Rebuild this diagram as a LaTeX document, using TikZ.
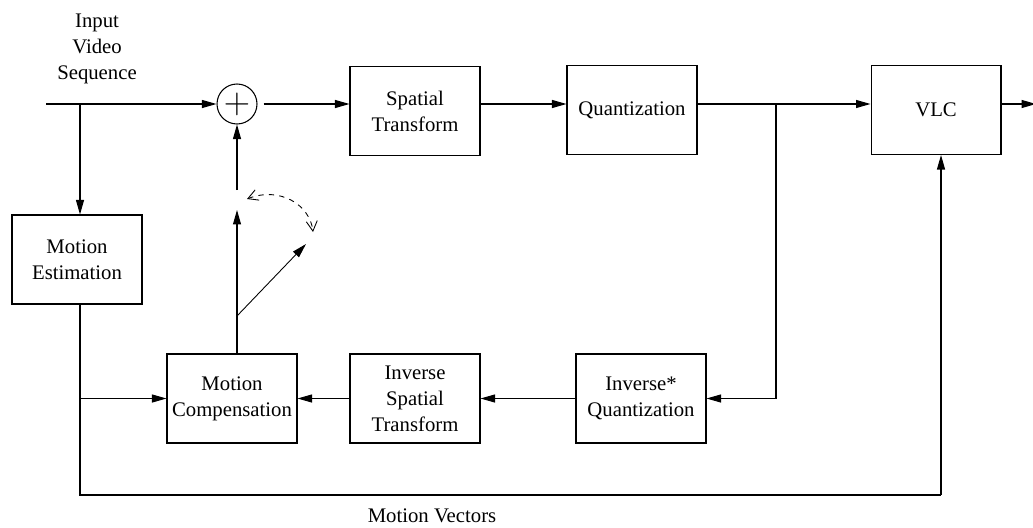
\documentclass[tikz,border=0pt]{standalone}
\usepackage{fontspec}
\setmainfont{Liberation Serif}
\usetikzlibrary{arrows.meta,calc}

\tikzset{
  block/.style={draw,line width=0.6pt,minimum width=2.6cm,minimum height=1.78cm,align=center,inner sep=0pt},
  flow/.style={line width=0.6pt,-{Triangle[length=2.9mm,width=1.6mm]}},
  wire/.style={line width=0.6pt}
}

\begin{document}
\begin{tikzpicture}[x=0.02cm,y=-0.02cm,font=\fontsize{11.8}{14.7}\selectfont]
\useasboundingbox (0,0) rectangle (1033,527);

% Blocks
\node[block] (st) at (415,111) {Spatial\\Transform};
\node[block] (quant) at (632,110) {Quantization};
\node[block] (vlc) at (936,110) {VLC};
\node[block] (me) at (77,259.5) {Motion\\Estimation};
\node[block] (mc) at (232,398.5) {Motion\\Compensation};
\node[block] (ist) at (415,398.5) {Inverse\\Spatial\\Transform};
\node[block] (iq) at (641,398.5) {Inverse*\\Quantization};

% Summing junction
\node[draw,circle,line width=0.6pt,minimum size=0.8cm,inner sep=0pt,font=\fontsize{20}{20}\selectfont] (sum) at (237,104) {$+$};

% Labels
\node[align=center] (inlabel) at (97,49) {Input\\Video\\Sequence};
\node (mvlabel) at (432,516) {Motion Vectors};

% Points on the wires
\coordinate (in) at (46,104);
\coordinate (split1) at (80,104);
\coordinate (split2) at (776,104);
\coordinate (out) at (1036,104);
\coordinate (mvleft) at (80,495);
\coordinate (mvright) at (941,495);
\coordinate (pivot) at (237,316);
\coordinate (swlow) at (237,210);
\coordinate (swhigh) at (237,190);
\coordinate (swtip) at (306,244);

% Forward path
\draw[flow] (in) -- (sum.west);
\draw[flow,shorten <=3.5pt] (sum.east) -- (st.west |- sum);
\draw[flow] (st.east |- sum) -- (quant.west |- sum);
\draw[flow] (quant.east |- sum) -- (vlc.west |- sum);
\draw[flow] (vlc.east |- sum) -- (out);

% Motion estimation and vectors
\draw[flow] (split1) -- (split1 |- me.north);
\draw[wire] (split1 |- me.south) -- (mvleft) -- (mvright);
\draw[flow] (mvright) -- (mvright |- vlc.south);
\draw[flow] (split1 |- mc.west) -- (mc.west);

% Feedback loop
\draw[wire] (split2) -- (split2 |- iq.east);
\draw[flow] (split2 |- iq.east) -- (iq.east);
\draw[flow] (iq.west) -- (ist.east);
\draw[flow] (ist.west) -- (mc.east);

% Switch
\draw[wire] (pivot |- mc.north) -- (pivot);
\draw[flow] (pivot) -- (swlow);
\draw[flow] (swhigh) -- (sum.south);
\draw[line width=0.5pt,-{Triangle[length=2.9mm,width=1.6mm]}] (pivot) -- (swtip);
\draw[line width=0.5pt,dashed,{Straight Barb[length=2mm,width=2.2mm]}-{Straight Barb[length=2mm,width=2.2mm]}]
  (247,199) .. controls (280,186) and (310,205) .. (313,232);

\end{tikzpicture}
\end{document}
